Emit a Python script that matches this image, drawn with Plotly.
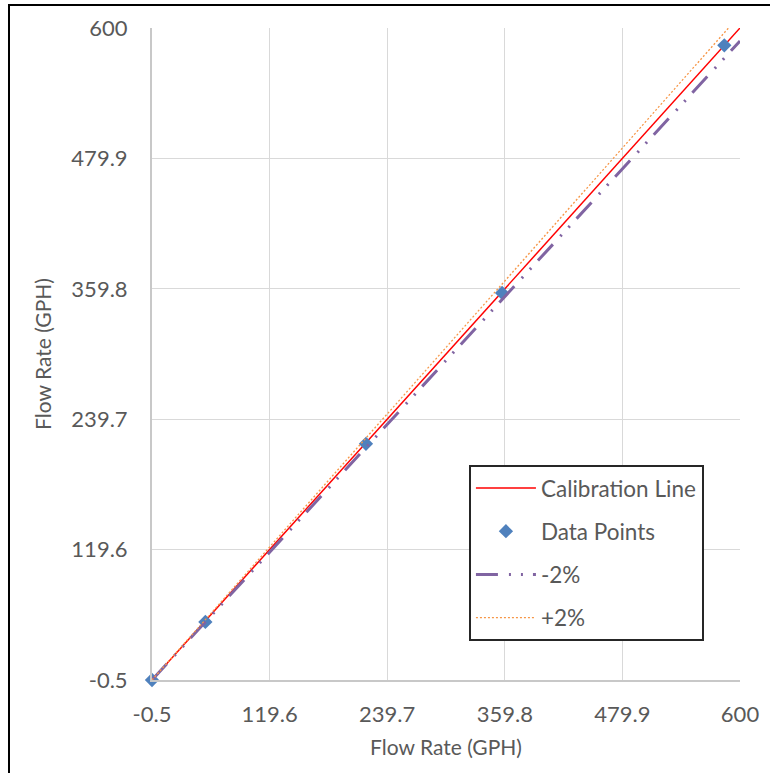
import plotly.graph_objects as go

# ---- data ----
tick_vals = [-0.5, 119.6, 239.7, 359.8, 479.9, 600]
tick_text = ["-0.5", "119.6", "239.7", "359.8", "479.9", "600"]

calib_x = [-0.5, 600]
calib_y = [-0.5, 600]

data_x = [-0.5, 54, 218, 357, 584]
data_y = [-0.5, 53, 217, 356, 584]

minus2_x = [-0.5, 600]
minus2_y = [-0.49, 588.0]

plus2_x = [-0.5, 600]
plus2_y = [-0.51, 612.0]

FONT = "Lato"
TXT = "#595959"

fig = go.Figure()
fig.add_trace(go.Scatter(x=calib_x, y=calib_y, mode="lines", name="Calibration Line",
                         line=dict(color="#FF0000", width=1.5), legendgroup="a"))
fig.add_trace(go.Scatter(x=data_x, y=data_y, mode="markers", name="Data Points",
                         marker=dict(symbol="diamond", color="#4F81BD", size=11),
                         cliponaxis=False, legendgroup="b"))
fig.add_trace(go.Scatter(x=minus2_x, y=minus2_y, mode="lines", name="-2%",
                         line=dict(color="#8064A2", width=3, dash="22px,11px,2px,10px,2px,10px"),
                         legendgroup="c"))
fig.add_trace(go.Scatter(x=plus2_x, y=plus2_y, mode="lines", name="+2%",
                         line=dict(color="#F79646", width=1.3, dash="2px,2px"), legendgroup="d"))

axis_common = dict(
    tickvals=tick_vals, ticktext=tick_text, range=[-0.5, 600],
    showgrid=True, gridcolor="#D9D9D9", gridwidth=1,
    showline=True, linecolor="#C8C8C8", linewidth=2,
    zeroline=False, ticks="",
    tickfont=dict(family=FONT, size=22, color=TXT),
    title_font=dict(family=FONT, size=21, color=TXT),
)

fig.update_layout(
    width=770, height=773,
    margin=dict(l=152, r=30, t=28, b=93),
    paper_bgcolor="white", plot_bgcolor="white",
    xaxis=dict(**axis_common, ticklabelstandoff=14,
               title=dict(text="Flow Rate (GPH)", standoff=14)),
    yaxis=dict(**axis_common, ticklabelstandoff=18,
               title=dict(text="Flow Rate (GPH)", standoff=14)),
    legend=dict(x=0.539, y=0.33, xanchor="left", yanchor="top",
                bordercolor="#262626", borderwidth=2, bgcolor="white",
                font=dict(family=FONT, size=22.5, color=TXT),
                tracegroupgap=11, itemwidth=60),
    shapes=[dict(type="rect", xref="paper", yref="paper",
                 x0=-0.2432, x1=1.2, y0=-0.3, y1=1.0353,
                 line=dict(color="black", width=2), layer="below")],
)

fig.write_html("out.html")
